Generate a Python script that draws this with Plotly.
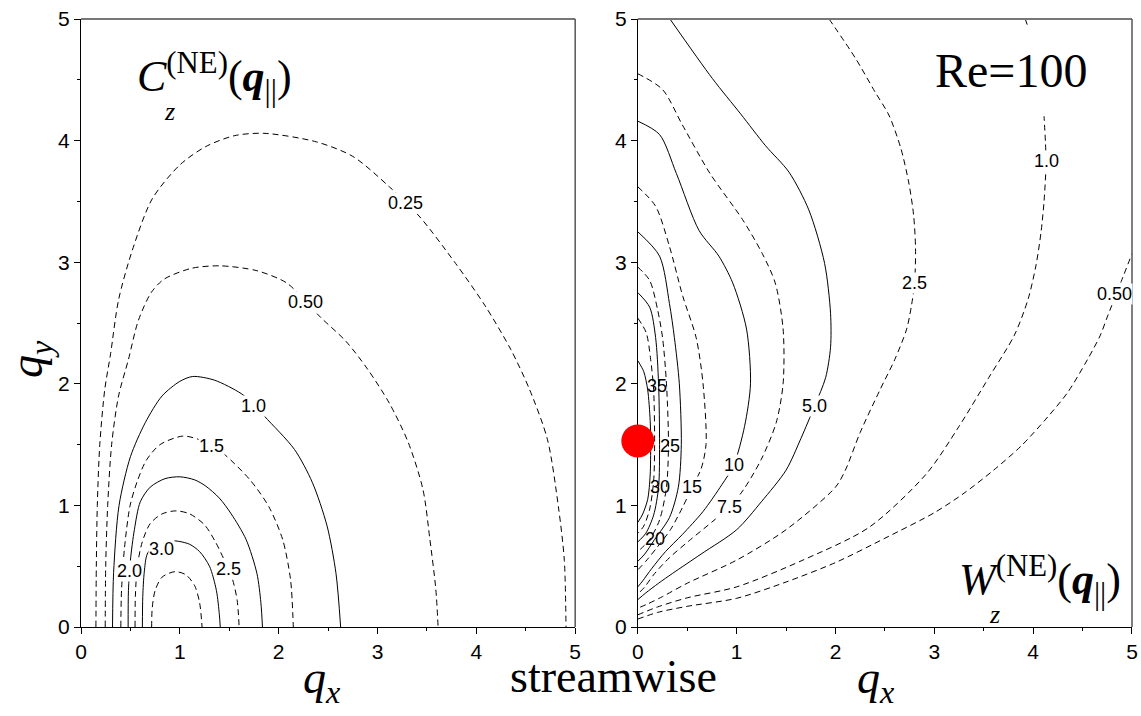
import plotly.graph_objects as go

# ---------------- Left panel: C_z^(NE) contour lines (level: x list, y list) -------------
c025_x = [0.151,0.155,0.165,0.19,0.24,0.30,0.38,0.52,0.72,1.0,1.26,1.55,1.85,2.38,2.75,3.12,3.42,3.79,4.09,4.35,4.54,4.72,4.83,4.89,4.907]
c025_y = [0,0.5,1.0,1.5,1.95,2.25,2.69,3.1,3.52,3.8,3.95,4.04,4.06,3.99,3.87,3.62,3.38,2.99,2.64,2.28,1.95,1.54,0.99,0.55,0]
c050_x = [0.245,0.25,0.27,0.31,0.38,0.48,0.58,0.71,0.84,1.12,1.41,1.78,2.08,2.27,2.42,2.68,2.90,3.12,3.31,3.46,3.53,3.59,3.613]
c050_y = [0,0.5,1.0,1.5,1.9,2.2,2.52,2.75,2.86,2.95,2.97,2.93,2.83,2.68,2.55,2.35,2.12,1.84,1.52,1.13,0.72,0.31,0]
c10_x = [0.319,0.33,0.385,0.50,0.65,0.82,1.0,1.13,1.35,1.62,1.75,1.86,2.16,2.34,2.49,2.58,2.627]
c10_y = [0,0.45,1.0,1.40,1.68,1.90,2.02,2.06,2.03,1.92,1.83,1.73,1.46,1.19,0.83,0.44,0]
c15_x = [0.403,0.41,0.44,0.497,0.57,0.66,0.8,1.03,1.2,1.32,1.45,1.71,1.90,2.04,2.12,2.148]
c15_y = [0,0.3,0.65,1.0,1.2,1.37,1.5,1.57,1.54,1.49,1.42,1.21,0.99,0.72,0.39,0]
c20_x = [0.477,0.48,0.50,0.54,0.60,0.7,0.85,1.0,1.15,1.26,1.40,1.52,1.67,1.78,1.82,1.836]
c20_y = [0,0.3,0.55,0.8,1.03,1.15,1.22,1.235,1.21,1.16,1.06,0.93,0.72,0.44,0.2,0]
c25_x = [0.547,0.55,0.57,0.62,0.7,0.82,0.96,1.1,1.25,1.36,1.45,1.53,1.58,1.60]
c25_y = [0,0.25,0.5,0.7,0.85,0.93,0.955,0.93,0.84,0.7,0.55,0.4,0.22,0]
c30_x = [0.621,0.625,0.64,0.67,0.75,0.87,0.985,1.1,1.2,1.3,1.37,1.40,1.409]
c30_y = [0,0.25,0.45,0.6,0.68,0.71,0.705,0.68,0.62,0.5,0.3,0.1,0]
c35_x = [0.715,0.72,0.75,0.82,0.95,1.06,1.15,1.2,1.225]
c35_y = [0,0.15,0.3,0.41,0.455,0.43,0.34,0.2,0]

left_curves = [  # (x, y, dashed)
    (c025_x, c025_y, True), (c050_x, c050_y, True), (c10_x, c10_y, False),
    (c15_x, c15_y, True), (c20_x, c20_y, False), (c25_x, c25_y, True),
    (c30_x, c30_y, False), (c35_x, c35_y, True),
]
left_label_text = ["0.25", "0.50", "1.0", "1.5", "2.0", "2.5", "3.0"]
left_label_x = [3.28, 2.27, 1.75, 1.32, 0.49, 1.49, 0.81]
left_label_y = [3.49, 2.67, 1.82, 1.49, 0.46, 0.48, 0.645]

# ---------------- Right panel: W_z^(NE) contour lines -------------
w40_x = [0,0.06,0.1,0.125,0.13,0.125,0.1,0.05,0]
w40_y = [2.19,2.1,1.95,1.7,1.5,1.25,1.05,0.93,0.86]
w35_x = [0,0.085,0.13,0.16,0.17,0.16,0.12,0.06,0]
w35_y = [2.54,2.42,2.2,1.95,1.5,1.2,0.97,0.83,0.77]
w30_x = [0,0.12,0.18,0.21,0.22,0.21,0.16,0.08,0]
w30_y = [2.75,2.63,2.38,2.0,1.5,1.15,0.92,0.77,0.70]
w25_x = [0,0.12,0.2,0.25,0.29,0.31,0.29,0.22,0.12,0]
w25_y = [2.96,2.85,2.61,2.38,2.0,1.5,1.15,0.88,0.72,0.62]
w20_x = [0,0.22,0.32,0.37,0.42,0.44,0.41,0.32,0.17,0.07,0]
w20_y = [3.25,3.05,2.66,2.38,2.0,1.5,1.15,0.9,0.72,0.6,0.54]
w15_x = [0,0.18,0.32,0.455,0.59,0.66,0.69,0.64,0.55,0.45,0.33,0.2,0.08,0]
w15_y = [3.62,3.46,3.13,2.72,2.38,2.0,1.5,1.3,1.15,0.98,0.8,0.66,0.54,0.47]
w10_x = [0,0.22,0.39,0.62,0.82,0.96,1.10,1.14,1.08,0.97,0.85,0.66,0.45,0.28,0.14,0.05,0]
w10_y = [4.16,4.05,3.73,3.26,3.05,2.83,2.45,2.0,1.65,1.33,1.17,0.95,0.76,0.62,0.48,0.38,0.33]
w75_x = [0,0.25,0.45,0.73,1.06,1.26,1.39,1.47,1.47,1.40,1.25,1.07,0.93,0.76,0.52,0.32,0.17,0.07,0]
w75_y = [4.55,4.42,4.13,3.73,3.35,3.07,2.83,2.45,2.0,1.68,1.38,1.13,0.99,0.87,0.71,0.57,0.44,0.33,0.27]
w50_x = [0.325,0.755,1.04,1.29,1.53,1.73,1.89,1.95,1.95,1.90,1.79,1.65,1.5,1.25,1.0,0.64,0.35,0.21,0.08,0]
w50_y = [5.0,4.51,4.22,3.96,3.74,3.43,2.99,2.58,2.3,2.05,1.82,1.55,1.29,1.03,0.80,0.60,0.44,0.36,0.28,0.225]
w2p5_x = [1.935,2.2,2.40,2.54,2.66,2.74,2.79,2.81,2.80,2.77,2.72,2.60,2.45,2.25,2.1,2.0,1.5,1.0,0.5,0.25,0.1,0]
w2p5_y = [5.0,4.68,4.40,4.21,3.94,3.66,3.39,3.11,2.83,2.65,2.45,2.2,1.95,1.6,1.29,1.15,0.80,0.55,0.36,0.25,0.19,0.155]
w1p0_x = [0,0.2,0.5,1.0,1.67,2.34,2.92,3.25,3.55,3.81,3.95,4.03,4.08,4.11,4.13,4.11]
w1p0_y = [0.10,0.165,0.24,0.33,0.55,0.82,1.26,1.65,2.05,2.40,2.70,2.98,3.25,3.50,3.83,4.20]
w1p0_top_x = [3.92,3.95]
w1p0_top_y = [5.0,4.93]
w0p5_x = [0,0.2,0.5,1.0,1.5,2.0,2.5,3.0,3.3,3.6,3.88,4.15,4.35,4.55,4.68,4.75,4.89,5.0]
w0p5_y = [0.065,0.12,0.17,0.236,0.37,0.53,0.73,0.94,1.1,1.29,1.49,1.73,1.93,2.2,2.4,2.55,2.84,3.07]

right_curves = [
    (w40_x, w40_y, False), (w35_x, w35_y, True), (w30_x, w30_y, False),
    (w25_x, w25_y, True), (w20_x, w20_y, False), (w15_x, w15_y, True),
    (w10_x, w10_y, False), (w75_x, w75_y, True), (w50_x, w50_y, False),
    (w2p5_x, w2p5_y, True), (w1p0_x, w1p0_y, True), (w1p0_top_x, w1p0_top_y, True),
    (w0p5_x, w0p5_y, True),
]
right_label_text = ["35", "25", "30", "20", "15", "10", "7.5", "5.0", "2.5", "1.0", "0.50"]
right_label_x = [0.19, 0.33, 0.22, 0.17, 0.55, 0.97, 0.93, 1.79, 2.80, 4.13, 4.82]
right_label_y = [1.98, 1.49, 1.15, 0.72, 1.15, 1.33, 0.99, 1.82, 2.83, 3.83, 2.74]
right_label_bg = [False, False, False, False, True, True, True, True, True, True, True]

marker_x = [0.0]
marker_y = [1.53]

tick_vals = [0, 1, 2, 3, 4, 5]
tick_text = ["0", "1", "2", "3", "4", "5"]

SERIF = "Liberation Serif, Times New Roman, serif"
SANS = "Liberation Sans, Arial, sans-serif"

fig = go.Figure()

def add_curves(curves, xa, ya):
    for cx, cy, dashed in curves:
        fig.add_trace(go.Scatter(
            x=cx, y=cy, mode="lines", xaxis=xa, yaxis=ya,
            line=dict(color="black", width=1, dash="6px,4px" if dashed else "solid",
                      shape="spline", smoothing=0.8),
            hoverinfo="skip", showlegend=False))

add_curves(left_curves, "x", "y")
add_curves(right_curves, "x2", "y2")

fig.add_trace(go.Scatter(x=marker_x, y=marker_y, mode="markers", xaxis="x2", yaxis="y2",
                         marker=dict(color="#ff0000", size=33, line=dict(width=0)),
                         cliponaxis=False, showlegend=False, hoverinfo="skip"))

annotations = []
for t, lx, ly in zip(left_label_text, left_label_x, left_label_y):
    annotations.append(dict(x=lx, y=ly, xref="x", yref="y", text=t, showarrow=False,
                            xanchor="center", yanchor="middle",
                            font=dict(family=SANS, size=18, color="black"),
                            bgcolor="white", borderpad=0))
for t, lx, ly, bg in zip(right_label_text, right_label_x, right_label_y, right_label_bg):
    annotations.append(dict(x=lx, y=ly, xref="x2", yref="y2", text=t, showarrow=False,
                            xanchor="center", yanchor="middle",
                            font=dict(family=SANS, size=18, color="black"),
                            bgcolor="white" if bg else "rgba(0,0,0,0)", borderpad=0))

def txt(x, y, xref, yref, text, size, xanchor="center", angle=0):
    return dict(x=x, y=y, xref=xref, yref=yref, text=text, showarrow=False,
                xanchor=xanchor, yanchor="middle", textangle=angle,
                font=dict(family=SERIF, size=size, color="black"))

annotations += [
    txt(0.487, -0.088, "x domain", "y domain", "<i>q</i><sub><i>x</i></sub>", 46),
    txt(0.481, -0.088, "x2 domain", "y2 domain", "<i>q</i><sub><i>x</i></sub>", 46),
    txt(0.507, -0.082, "paper", "paper", "streamwise", 46),
    txt(-0.048, 0.44, "paper", "paper", "<i>q</i><sub><i>y</i></sub>", 46, angle=-90),
    txt(0.755, 0.916, "x2 domain", "y2 domain", "Re=100", 48),
    txt(0.109, 0.905, "x domain", "y domain", "<i>C</i><sup>(NE)</sup>(<b><i>q</i></b><sub>||</sub>)", 44, xanchor="left"),
    txt(0.179, 0.848, "x domain", "y domain", "<i>z</i>", 26),
    txt(0.646, 0.078, "x2 domain", "y2 domain", "<i>W</i><sup>(NE)</sup>(<b><i>q</i></b><sub>||</sub>)", 44, xanchor="left"),
    txt(0.722, 0.02, "x2 domain", "y2 domain", "<i>z</i>", 26),
]

axis_common = dict(range=[0, 5], tickvals=tick_vals, ticktext=tick_text, ticks="outside",
                   ticklen=6, tickwidth=1, tickcolor="black", showgrid=False, zeroline=False,
                   showline=True, linecolor="black", linewidth=1, mirror=False,
                   tickfont=dict(family=SANS, size=21, color="black"),
                   minor=dict(tickvals=[0.5, 1.5, 2.5, 3.5, 4.5], ticks="outside", ticklen=3,
                              tickcolor="black", showgrid=False),
                   layer="below traces")

shapes = []
for xr, yr in [("x domain", "y domain"), ("x2 domain", "y2 domain")]:
    shapes.append(dict(type="line", xref=xr, yref=yr, x0=0, x1=1, y0=1, y1=1,
                       line=dict(color="#777777", width=2)))
    shapes.append(dict(type="line", xref=xr, yref=yr, x0=1, x1=1, y0=0, y1=1,
                       line=dict(color="#555555", width=1.5)))

fig.update_layout(
    width=1141, height=716,
    margin=dict(l=81, r=3, t=19, b=89),
    paper_bgcolor="white", plot_bgcolor="white",
    xaxis=dict(domain=[0, 0.4702], anchor="y", **axis_common),
    yaxis=dict(domain=[0, 1], anchor="x", **axis_common),
    xaxis2=dict(domain=[0.5298, 1], anchor="y2", **axis_common),
    yaxis2=dict(domain=[0, 1], anchor="x2", **axis_common),
    annotations=annotations,
    shapes=shapes,
    showlegend=False,
)

fig.write_html("out.html", config={"displayModeBar": False},
               post_script="document.body.style.margin='0';")
